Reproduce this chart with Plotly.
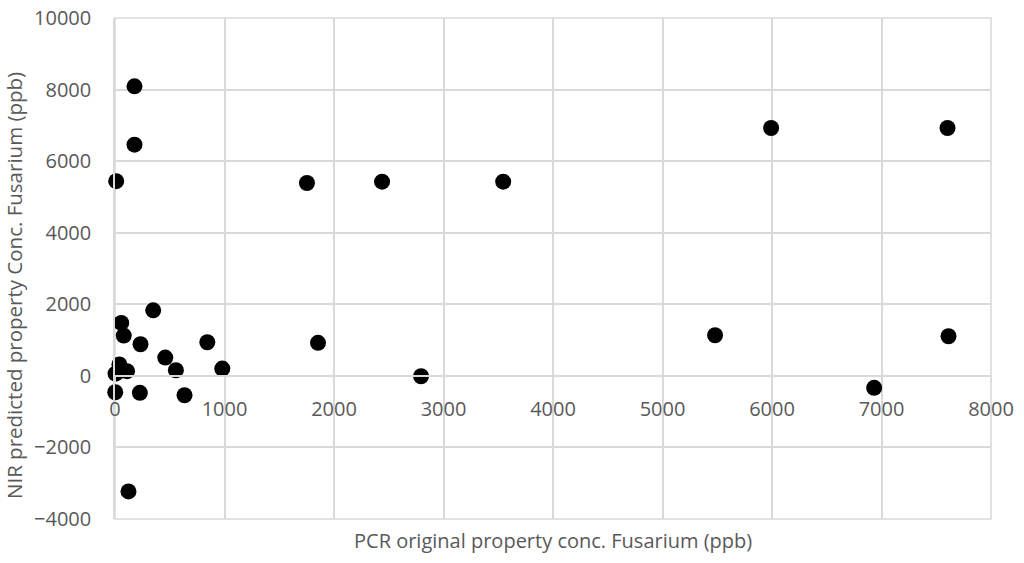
import plotly.graph_objects as go

# PCR original vs NIR predicted Fusarium concentration (ppb)
pcr_x = [178, 178, 11, 1753, 2439, 3545, 5992, 7603, 349, 57, 80, 233, 843, 459, 556,
         980, 40, 110, 5, 60, 2, 227, 635, 123, 1854, 2795, 5480, 7612, 6933]
nir_y = [8090, 6460, 5440, 5390, 5427, 5427, 6927, 6927, 1832, 1480, 1126, 883, 940, 511, 156,
         204, 320, 130, 60, 150, -458, -475, -541, -3230, 922, -10, 1134, 1106, -335]

x_title = 'PCR original property conc. Fusarium (ppb)'
y_title = 'NIR predicted property Conc. Fusarium (ppb)'

grid = '#d9d9d9'
text_col = '#595959'
font_family = 'Open Sans'

fig = go.Figure()

fig.add_trace(go.Scatter(
    x=pcr_x,
    y=nir_y,
    mode='markers',
    marker=dict(size=16, color='black'),
    cliponaxis=False,
    showlegend=False,
))

fig.update_layout(
    width=1024,
    height=563,
    margin=dict(l=115, r=33, t=18, b=44),
    paper_bgcolor='white',
    plot_bgcolor='white',
    font=dict(family=font_family, size=20, color=text_col),
    xaxis=dict(
        range=[0, 8000],
        dtick=1000,
        tickformat='d',
        automargin=False,
        showgrid=True,
        gridcolor=grid,
        gridwidth=1.5,
        zeroline=False,
        showline=True,
        linecolor=grid,
        linewidth=1.5,
        ticks='outside',
        ticklen=5,
        tickcolor=grid,
        anchor='free',
        position=4 / 14,
        ticklabelstandoff=10,
        ticklabeloverflow='allow',
        tickfont=dict(size=20, color=text_col),
    ),
    yaxis=dict(
        range=[-4000, 10000],
        dtick=2000,
        tickformat='d',
        automargin=False,
        showgrid=True,
        gridcolor=grid,
        gridwidth=1.5,
        zeroline=False,
        showline=True,
        linecolor=grid,
        linewidth=1.5,
        ticks='',
        ticklabelstandoff=18,
        ticklabeloverflow='allow',
        tickfont=dict(size=20, color=text_col),
    ),
    shapes=[dict(
        type='rect', xref='paper', yref='paper', x0=0, x1=1, y0=0, y1=1,
        line=dict(color=grid, width=1.5), layer='below',
    )],
    annotations=[
        dict(text=x_title, xref='paper', yref='paper', x=0.5, y=0, yanchor='middle',
             yshift=-21, showarrow=False, font=dict(size=20, color=text_col)),
        dict(text=y_title, xref='paper', yref='paper', x=0, xanchor='center',
             xshift=-101, y=0.465, textangle=-90, showarrow=False,
             font=dict(size=20.5, color=text_col)),
    ],
)

# drop the default body margin so the figure fills the window exactly
fig.write_html("out.html", config={'displayModeBar': False},
               post_script="document.body.style.margin = '0';")
